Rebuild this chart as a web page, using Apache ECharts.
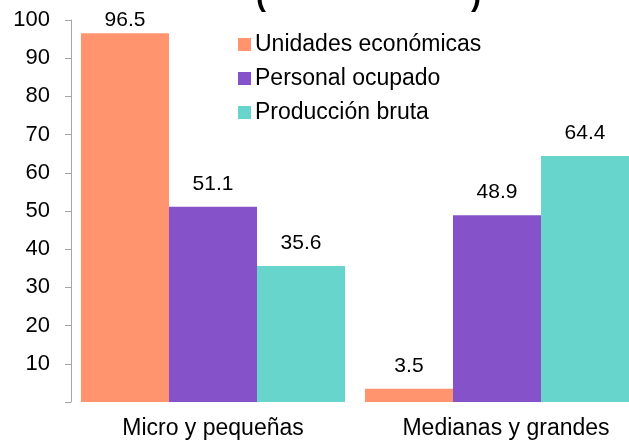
<!DOCTYPE html>
<html>
<head>
<meta charset="utf-8">
<script src="https://cdn.jsdelivr.net/npm/echarts@6/dist/echarts.min.js"></script>
<style>html,body{margin:0;padding:0;background:#fff}#c{width:629px;height:442px}</style>
</head>
<body>
<div id="c"></div>
<script>
const categories = ["Micro y pequeñas", "Medianas y grandes"];
const seriesNames = ["Unidades económicas", "Personal ocupado", "Producción bruta"];
const unidades = [96.5, 3.5];
const personal = [51.1, 48.9];
const produccion = [35.6, 64.4];
const yTicks = [10, 20, 30, 40, 50, 60, 70, 80, 90, 100];
const colors = ["#FF946E", "#8652C9", "#68D5CC"];

const font = "Arial, 'Liberation Sans', sans-serif";
const chart = echarts.init(document.getElementById('c'), null, {renderer: 'canvas'});
const values = [unidades, personal, produccion];
chart.setOption({
  animation: false,
  color: colors,
  graphic: [
    {type: 'text', left: 256, top: -17, style: {text: '(', font: 'bold 30px ' + font, fill: '#000'}},
    {type: 'text', left: 471, top: -17, style: {text: ')', font: 'bold 30px ' + font, fill: '#000'}}
  ],
  legend: {
    orient: 'vertical', left: 238, top: 33, itemWidth: 13, itemHeight: 13, itemGap: 11,
    icon: 'rect', padding: 0,
    textStyle: {fontFamily: font, fontSize: 23, lineHeight: 20, color: '#000', padding: [0, 0, 0, -1]},
    data: seriesNames
  },
  grid: {left: 71, top: 20, right: -10, bottom: 40, outerBoundsMode: 'none', containLabel: false},
  xAxis: {
    type: 'category',
    data: categories.map((c, i) => i === 1 ? {value: c, textStyle: {padding: [0, 0, 0, 18]}} : c),
    axisLine: {show: false}, axisTick: {show: false},
    axisLabel: {fontFamily: font, fontSize: 23, color: '#000', margin: 15}
  },
  yAxis: {
    type: 'value', min: 0, max: 100, interval: 10,
    axisLine: {show: true, lineStyle: {color: '#a6a6a6'}},
    axisTick: {show: true, length: 6, lineStyle: {color: '#a6a6a6'}},
    splitLine: {show: false},
    axisLabel: {
      fontFamily: font, fontSize: 22, color: '#000', margin: 21,
      formatter: v => yTicks.includes(v) ? String(v) : ''
    }
  },
  series: seriesNames.map((n, i) => ({
    name: n, type: 'bar',
    data: values[i].map(v => v > 90 ? {value: v, label: {distance: 3}} : v),
    barGap: '0%', barCategoryGap: '7%',
    label: {show: true, position: 'top', distance: 12, fontFamily: font, fontSize: 21, color: '#000',
            formatter: p => p.value.toFixed(1)}
  }))
});
</script>
</body>
</html>
